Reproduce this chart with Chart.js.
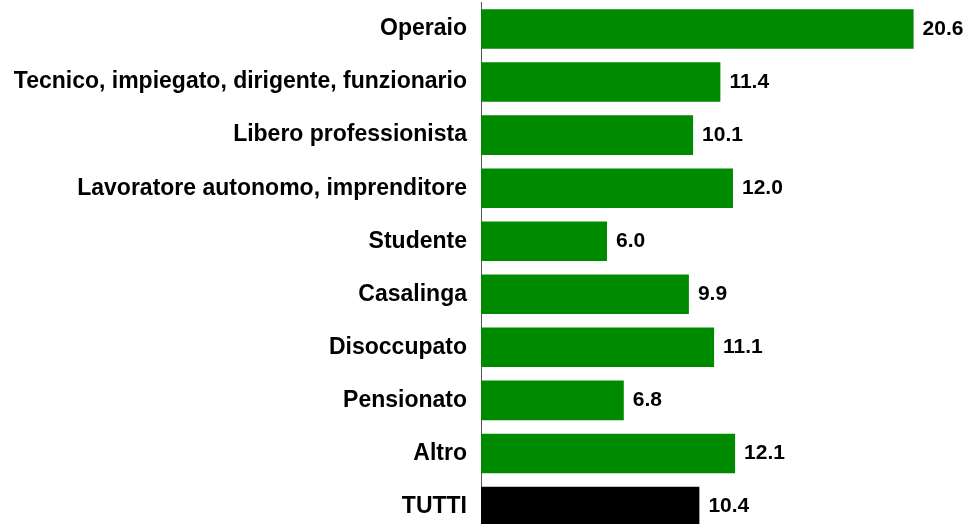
<!DOCTYPE html>
<html>
<head>
<meta charset="utf-8">
<script src="https://cdn.jsdelivr.net/npm/chart.js@4/dist/chart.umd.min.js"></script>
<style>
html, body { margin: 0; padding: 0; overflow: hidden; background: #ffffff; width: 969px; height: 524px; }
#wrap { position: absolute; left: 0; top: 0; width: 969px; height: 534px; }
</style>
</head>
<body>
<div id="wrap"><canvas id="c" width="969" height="534"></canvas></div>
<script>
const categories = [
  "Operaio",
  "Tecnico, impiegato, dirigente, funzionario",
  "Libero professionista",
  "Lavoratore autonomo, imprenditore",
  "Studente",
  "Casalinga",
  "Disoccupato",
  "Pensionato",
  "Altro",
  "TUTTI"
];
const values = [20.6, 11.4, 10.1, 12.0, 6.0, 9.9, 11.1, 6.8, 12.1, 10.4];
const barColors = ["#008a00","#008a00","#008a00","#008a00","#008a00","#008a00","#008a00","#008a00","#008a00","#000000"];

const valueLabels = {
  id: 'valueLabels',
  afterDatasetsDraw(chart) {
    const ctx = chart.ctx;
    const meta = chart.getDatasetMeta(0);
    ctx.save();
    ctx.font = 'bold 21px "Liberation Sans", Arial, sans-serif';
    ctx.fillStyle = '#000000';
    ctx.textAlign = 'left';
    ctx.textBaseline = 'middle';
    meta.data.forEach((bar, i) => {
      ctx.fillText(values[i].toFixed(1), bar.x + 9, bar.y);
    });
    ctx.restore();
  }
};

new Chart(document.getElementById('c'), {
  type: 'bar',
  data: {
    labels: categories,
    datasets: [{
      data: values,
      backgroundColor: barColors,
      borderWidth: 0,
      barPercentage: 0.745,
      categoryPercentage: 1.0
    }]
  },
  options: {
    indexAxis: 'y',
    responsive: false,
    devicePixelRatio: 1,
    animation: false,
    layout: { padding: { top: 2.5, bottom: 1, left: 0, right: 0 } },
    plugins: { legend: { display: false }, tooltip: { enabled: false } },
    scales: {
      x: { display: false, min: 0, max: 23.24 },
      y: {
        grid: { display: false, drawTicks: false },
        border: { display: true, color: '#555555', width: 1 },
        ticks: {
          color: '#000000',
          padding: 14,
          font: { family: '"Liberation Sans", Arial, sans-serif', weight: 'bold', size: 23 }
        },
        afterFit(scale) {
          scale.width = 481;
          scale.paddingTop = 0;
          scale.paddingBottom = 0;
        }
      }
    }
  },
  plugins: [valueLabels]
});
</script>
</body>
</html>
